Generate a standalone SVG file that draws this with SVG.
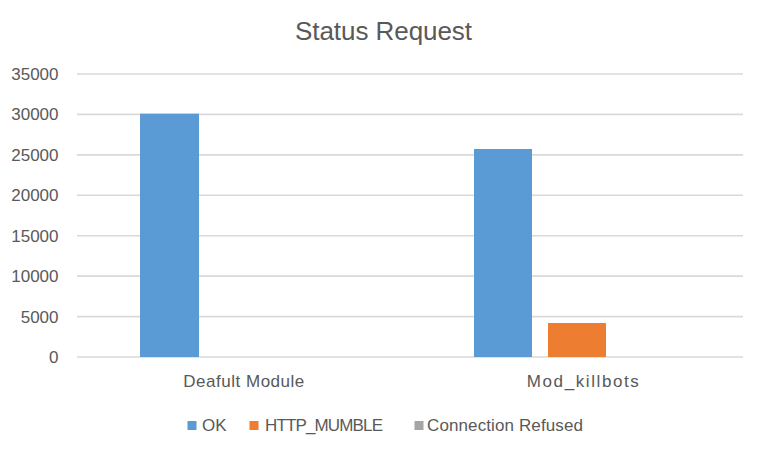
<svg xmlns="http://www.w3.org/2000/svg" width="763" height="451" viewBox="0 0 763 451">
<style>
text{font-family:"Liberation Sans",Arial,sans-serif;fill:#595959}
.ax{font-size:17px;text-anchor:end}
.cat{font-size:17px;text-anchor:middle}
.lg{font-size:17px}
.grid line{stroke:#D9D9D9;stroke-width:1.6}
.ok{fill:#5B9BD5}.hm{fill:#ED7D31}.cr{fill:#A5A5A5}
</style>
<rect width="763" height="451" fill="#fff"/>
<text x="383.5" y="39.5" font-size="26" text-anchor="middle" textLength="177">Status Request</text>
<g class="grid" id="gridlines">
<line x1="77" y1="74" x2="743" y2="74"/>
<line x1="77" y1="114.4" x2="743" y2="114.4"/>
<line x1="77" y1="154.9" x2="743" y2="154.9"/>
<line x1="77" y1="195.3" x2="743" y2="195.3"/>
<line x1="77" y1="235.7" x2="743" y2="235.7"/>
<line x1="77" y1="276.1" x2="743" y2="276.1"/>
<line x1="77" y1="316.6" x2="743" y2="316.6"/>
<line x1="77" y1="357" x2="743" y2="357"/>
</g>
<g id="y-axis">
<text class="ax" x="58.5" y="80">35000</text>
<text class="ax" x="58.5" y="120.4">30000</text>
<text class="ax" x="58.5" y="160.9">25000</text>
<text class="ax" x="58.5" y="201.3">20000</text>
<text class="ax" x="58.5" y="241.7">15000</text>
<text class="ax" x="58.5" y="282.1">10000</text>
<text class="ax" x="58.5" y="322.6">5000</text>
<text class="ax" x="58.5" y="363">0</text>
</g>
<g id="bars">
<rect class="ok" x="140" y="113.7" width="59" height="243.3"/>
<rect class="ok" x="474" y="149" width="58" height="208"/>
<rect class="hm" x="548" y="323" width="58" height="34"/>
</g>
<g id="categories">
<text class="cat" x="243.8" y="387" textLength="121">Deafult Module</text>
<text class="cat" x="582.8" y="387" textLength="112">Mod_killbots</text>
</g>
<g id="legend">
<rect class="ok" x="187.5" y="421" width="9" height="9"/>
<text class="lg" x="202" y="431">OK</text>
<rect class="hm" x="249.5" y="421" width="9" height="9"/>
<text class="lg" x="265" y="431" textLength="118">HTTP_MUMBLE</text>
<rect class="cr" x="414.5" y="421" width="9" height="9"/>
<text class="lg" x="427" y="431" textLength="156">Connection Refused</text>
</g>
</svg>
